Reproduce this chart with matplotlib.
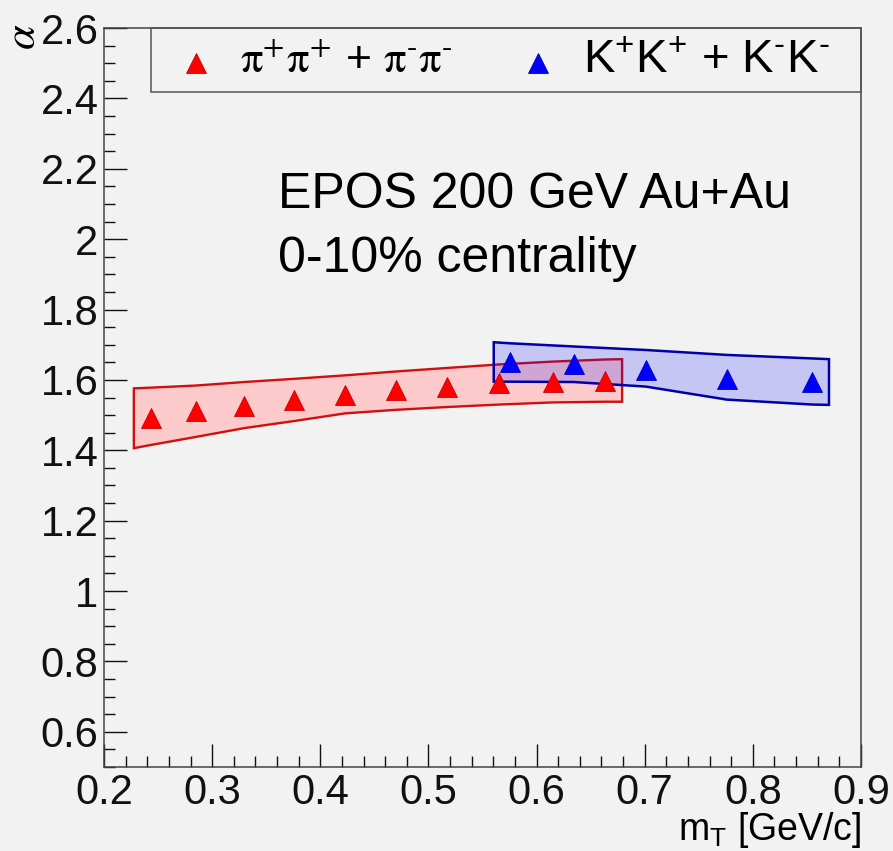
import matplotlib
matplotlib.use("Agg")
import matplotlib.pyplot as plt
from matplotlib.ticker import MultipleLocator
from matplotlib.patches import Rectangle

# ---------------- data ----------------
pi_mt = [0.2431, 0.2850, 0.3296, 0.3755, 0.4232, 0.4703, 0.5174, 0.5657, 0.6149, 0.6636]
pi_alpha = [1.492, 1.511, 1.527, 1.544, 1.558, 1.571, 1.580, 1.590, 1.595, 1.598]

k_mt = [0.5758, 0.6343, 0.7011, 0.7760, 0.8550]
k_alpha = [1.652, 1.646, 1.629, 1.602, 1.593]

pi_band_x = [0.2276, 0.2431, 0.2850, 0.3296, 0.3755, 0.4232, 0.4703, 0.5174, 0.5657, 0.6149, 0.6636, 0.6791]
pi_band_hi = [1.576, 1.578, 1.584, 1.594, 1.603, 1.613, 1.624, 1.634, 1.644, 1.652, 1.658, 1.659]
pi_band_lo = [1.406, 1.415, 1.438, 1.463, 1.483, 1.505, 1.515, 1.523, 1.530, 1.536, 1.538, 1.538]

k_band_x = [0.5604, 0.5758, 0.6343, 0.7011, 0.7760, 0.8550, 0.8704]
k_band_hi = [1.707, 1.704, 1.695, 1.685, 1.671, 1.661, 1.659]
k_band_lo = [1.595, 1.595, 1.594, 1.581, 1.544, 1.530, 1.529]

xtick_vals = [0.2, 0.3, 0.4, 0.5, 0.6, 0.7, 0.8, 0.9]
xtick_labels = ['0.2', '0.3', '0.4', '0.5', '0.6', '0.7', '0.8', '0.9']
ytick_vals = [0.6, 0.8, 1.0, 1.2, 1.4, 1.6, 1.8, 2.0, 2.2, 2.4, 2.6]
ytick_labels = ['0.6', '0.8', '1', '1.2', '1.4', '1.6', '1.8', '2', '2.2', '2.4', '2.6']

pi_label = r'$\mathrm{\pi^{+}\pi^{+}}$ + $\mathrm{\pi^{\text{-}}\pi^{\text{-}}}$'
k_label = r'K$^{+}$K$^{+}$ + K$^{\text{-}}$K$^{\text{-}}$'
text_lines = ["EPOS 200 GeV Au+Au", "0-10% centrality"]
xlabel = r'm$_{\mathrm{T}}$ [GeV/c]'
ylabel = r'$\alpha$'

# ---------------- style ----------------
plt.rcParams['font.family'] = ['Liberation Sans', 'DejaVu Sans']
plt.rcParams['mathtext.fontset'] = 'custom'
plt.rcParams['mathtext.rm'] = 'Liberation Sans'
plt.rcParams['mathtext.it'] = 'Liberation Sans:italic'
plt.rcParams['mathtext.sf'] = 'Liberation Sans'

bg = '#f2f2f2'
W, H = 893, 851
fig = plt.figure(figsize=(W / 100, H / 100), dpi=100, facecolor=bg)
L, R, T, B = 104, 861, 28, 767
ax = fig.add_axes([L / W, 1 - B / H, (R - L) / W, (B - T) / H], facecolor=bg)

ax.set_xlim(0.2, 0.9)
ax.set_ylim(0.5, 2.6)

# bands
ax.fill(pi_band_x + pi_band_x[::-1], pi_band_hi + pi_band_lo[::-1],
        facecolor='#fccaca', edgecolor='#d01010', linewidth=1.7, zorder=2)
ax.fill(k_band_x + k_band_x[::-1], k_band_hi + k_band_lo[::-1],
        facecolor=(0, 0, 1, 0.18), edgecolor='#0000a8', linewidth=1.8, zorder=2)

# markers
ax.plot(pi_mt, pi_alpha, linestyle='none', marker='^', markersize=15,
        color='#ff0000', markeredgecolor='#cc0000', markeredgewidth=0.6, zorder=3)
ax.plot(k_mt, k_alpha, linestyle='none', marker='^', markersize=15,
        color='#0000ff', markeredgecolor='#0000bb', markeredgewidth=0.6, zorder=3)

# ticks
ax.xaxis.set_minor_locator(MultipleLocator(0.02))
ax.yaxis.set_minor_locator(MultipleLocator(0.05))
ax.set_xticks(xtick_vals)
ax.set_xticklabels(xtick_labels)
ax.set_yticks(ytick_vals)
ax.set_yticklabels(ytick_labels)
ax.tick_params(which='both', direction='in', top=False, right=False, colors='#111111',
               labelsize=30)
ax.tick_params(axis='y', pad=4)
ax.tick_params(axis='x', pad=4)
ax.tick_params(which='major', length=16.5, width=1.0)
ax.tick_params(which='minor', length=8.2, width=1.0)
for s in ax.spines.values():
    s.set_linewidth(1.1)
    s.set_color('#444444')

# axis titles
fig.text(R / W, 1 - 850 / H, xlabel, ha='right', va='bottom', fontsize=27)
fig.text(3 / W, 1 - 24 / H, ylabel, ha='left', va='top', rotation=90,
         fontsize=32, math_fontfamily='stix')

# legend box
ax.add_patch(Rectangle(((150.7 - L) / (R - L), 1 - (92.3 - T) / (B - T)),
                       1 - (150.7 - L) / (R - L), (92.3 - T) / (B - T),
                       transform=ax.transAxes, facecolor='none',
                       edgecolor='#555555', linewidth=1.1, zorder=5, clip_on=False))
ax.plot([(195.7 - L) / (R - L)], [(B - 63.3) / (B - T)], transform=ax.transAxes,
        marker='^', markersize=15, color='#ff0000', markeredgecolor='#cc0000',
        markeredgewidth=0.6, linestyle='none', clip_on=False, zorder=6)
ax.plot([(538 - L) / (R - L)], [(B - 63.3) / (B - T)], transform=ax.transAxes,
        marker='^', markersize=15, color='#0000ff', markeredgecolor='#0000bb',
        markeredgewidth=0.6, linestyle='none', clip_on=False, zorder=6)
ax.text((240 - L) / (R - L), (B - 73.3) / (B - T), pi_label, transform=ax.transAxes,
        ha='left', va='baseline', fontsize=32, math_fontfamily='stix')
ax.text((583 - L) / (R - L), (B - 73.3) / (B - T), k_label, transform=ax.transAxes,
        ha='left', va='baseline', fontsize=34)

# annotation text
ax.text((278 - L) / (R - L), (B - 208) / (B - T), text_lines[0], transform=ax.transAxes,
        ha='left', va='baseline', fontsize=36)
ax.text((278 - L) / (R - L), (B - 271.7) / (B - T), text_lines[1], transform=ax.transAxes,
        ha='left', va='baseline', fontsize=36)

fig.savefig('out.png', dpi=100, facecolor=bg)
